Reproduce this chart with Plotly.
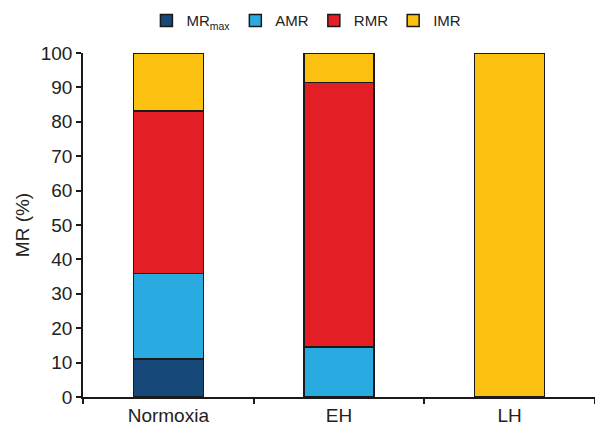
import plotly.graph_objects as go

categories = ["Normoxia", "EH", "LH"]
series_names = ["MR<sub>max</sub>", "AMR", "RMR", "IMR"]
mr_max = [11.1, None, None]
amr = [24.8, 14.5, None]
rmr = [47.2, 76.9, None]
imr = [16.9, 8.6, 100]
colors = ["#17487a", "#29abe2", "#e31e25", "#fcc010"]
y_ticks = list(range(0, 101, 10))

fig = go.Figure()
for name, vals, col in zip(series_names, [mr_max, amr, rmr, imr], colors):
    fig.add_trace(go.Bar(
        x=categories, y=vals, name=name,
        marker=dict(color=col, line=dict(color="#1a1a1a", width=1.5)),
        width=0.41,
    ))

font = "Liberation Sans, Arial, sans-serif"
fig.update_layout(
    barmode="stack",
    width=595, height=426,
    margin=dict(l=83, r=0, t=53, b=29),
    paper_bgcolor="white", plot_bgcolor="white",
    font=dict(family=font, size=19, color="#222"),
    showlegend=True,
    legend=dict(orientation="h", x=0.515, xref="container", xanchor="center",
                y=0.99, yref="container", yanchor="top",
                font=dict(size=15, color="#222"),
                traceorder="normal", itemwidth=30, tracegroupgap=0),
    xaxis=dict(showline=True, linecolor="#1a1a1a", linewidth=1.5,
               ticks="outside", ticklen=5, tickcolor="#1a1a1a", tickwidth=1.5,
               tickson="boundaries", showgrid=False, range=[-0.5, 2.5],
               automargin=False, tickfont=dict(size=19)),
    yaxis=dict(showline=True, linecolor="#1a1a1a", linewidth=1.5,
               ticks="outside", ticklen=5, tickcolor="#1a1a1a", tickwidth=1.5,
               range=[0, 100], tickvals=y_ticks, showgrid=False, zeroline=False,
               automargin=False,
               title=dict(text="MR (%)", font=dict(size=19), standoff=6),
               tickfont=dict(size=19)),
)
fig.write_html("out.html", config={"displayModeBar": False},
               post_script="document.body.style.margin='0';")
